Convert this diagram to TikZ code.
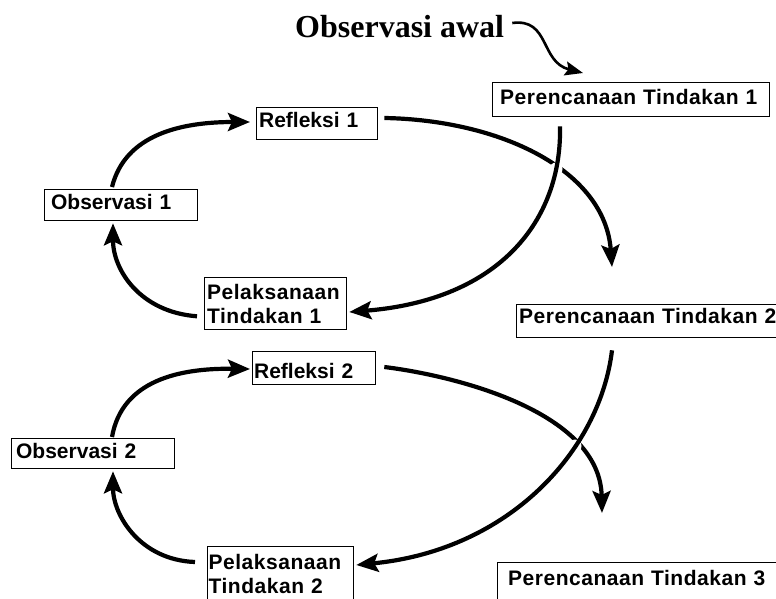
\documentclass[tikz,border=0pt]{standalone}
\usepackage{fontspec}
\usetikzlibrary{arrows.meta,calc}
\newfontfamily\arialf{Liberation Sans}
\newfontfamily\arialsp{Liberation Sans}[LetterSpace=2.5]
\newfontfamily\timesf{Liberation Serif}
\begin{document}
\begin{tikzpicture}[x=1pt,y=-1pt,
  tbox/.style={draw, line width=1.3pt, anchor=north west, inner ysep=0pt, align=left},
  bf/.style={font=\arialf\bfseries\fontsize{21}{24}\selectfont},
  bfw/.style={font=\arialsp\bfseries\fontsize{21}{24}\selectfont},
  conn/.style={line width=4.2pt, -{Stealth[length=22pt,width=18pt,inset=4pt]}},
  leadarrow/.style={line width=2.6pt, -{Stealth[length=18pt,width=14pt,inset=3pt]}},
  gapfill/.style={fill=white, draw=none}]
\useasboundingbox (0,0) rectangle (776,599);
\clip (0,0) rectangle (776,599);

% title
\node[font=\timesf\bfseries\fontsize{32}{36}\selectfont, anchor=base west, inner sep=0pt] (obs) at (295,38) {Observasi awal};

% cycle 1 boxes
\node[tbox,bfw,inner xsep=7.5pt,text width=262pt,text height=22pt,text depth=12pt] (p1) at (492,82) {Perencanaan Tindakan 1};
\node[tbox,bf,inner xsep=2.5pt,text width=116pt,text height=20pt,text depth=12pt] (r1) at (256,107) {Refleksi 1};
\node[tbox,bf,inner xsep=6.5pt,text width=140pt,text height=20pt,text depth=11pt] (o1) at (44,189) {Observasi 1};
\node[tbox,bfw,inner xsep=2.5pt,text width=137pt,text height=22pt,text depth=30pt] (l1) at (204,277) {Pelaksanaan\\Tindakan 1};

% cycle 2 boxes
\node[tbox,bfw,inner xsep=2.5pt,text width=315pt,text height=19pt,text depth=14pt] (p2) at (516,304) {Perencanaan Tindakan 2};
\node[tbox,bf,inner xsep=1.5pt,text width=120pt,text height=27pt,text depth=6pt] (r2) at (252,351) {Refleksi 2};
\node[tbox,bf,inner xsep=4.5pt,text width=154pt,text height=20pt,text depth=10pt] (o2) at (11,438) {Observasi 2};
\node[tbox,bfw,inner xsep=1pt,text width=144pt,text height=23pt,text depth=40pt] (l2) at (207,546) {Pelaksanaan\\Tindakan 2};
\node[tbox,bfw,inner xsep=10.5pt,text width=299pt,text height=23pt,text depth=30pt] (p3) at (497,562) {Perencanaan Tindakan 3};

\coordinate (d1) at (612,267);
\coordinate (d2) at (602,513);
\coordinate (x1) at (556,169);
\coordinate (x2) at (575,446);

% lead-in arrow
\draw[leadarrow] ($(obs.base east)+(8,-15)$) .. controls (550,18) and (540,62) .. ([shift={(91,-9)}]p1.north west);

% cycle 1 connectors
\draw[conn] ([shift={(6,11)}]r1.north east) .. controls (500,120) and (605,170) .. (d1);
\path[gapfill] (x1) circle (6.5);
\draw[conn] ([shift={(68,9)}]p1.south west) .. controls (562,220) and (500,300) .. ([shift={(2,35)}]l1.north east);
\draw[conn] ([shift={(-7,-14)}]l1.south west) .. controls (140,312) and (113,270) .. ([shift={(69,2)}]o1.south west);
\draw[conn] ([shift={(68,-2)}]o1.north west) .. controls (125,135) and (180,122) .. ([shift={(-6,15)}]r1.north west);

% cycle 2 connectors
\draw[conn] ([shift={(8,16)}]r2.north east) .. controls (450,375) and (600,410) .. (d2);
\path[gapfill] (x2) circle (6.5);
\draw[conn] ([shift={(96,12)}]p2.south west) .. controls (600,450) and (510,550) .. ([shift={(2,19)}]l2.north east);
\draw[conn] ([shift={(-12,16)}]l2.north west) .. controls (140,560) and (113,515) .. ([shift={(102,2)}]o2.south west);
\draw[conn] ([shift={(101,-1)}]o2.north west) .. controls (122,380) and (180,368) .. ([shift={(-2,18)}]r2.north west);
\end{tikzpicture}
\end{document}
